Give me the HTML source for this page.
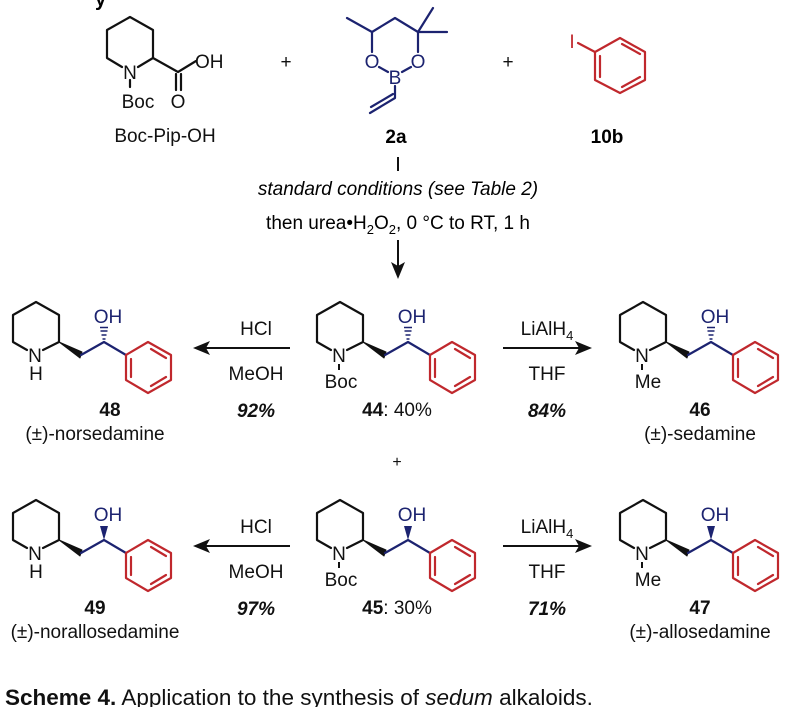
<!DOCTYPE html>
<html><head><meta charset="utf-8"><style>
html,body{margin:0;padding:0;background:#fff;}
svg{display:block;font-family:"Liberation Sans",Arial,sans-serif;}
</style></head><body>
<svg width="807" height="707" viewBox="0 0 807 707" xmlns="http://www.w3.org/2000/svg">
<defs>
  <g id="skel" fill="none" stroke-width="2.2" stroke-linejoin="round" stroke-linecap="round">
    <path d="M331,350 L317,342 L317,315 L340,302 L363,315 L363,342 L347,350" stroke="#111"/>
    <polygon points="363,342 386,352 384,358" fill="#111" stroke="#111" stroke-width="1"/>
    <path d="M385,355 L408,342 L430,355" stroke="#1c2370"/>
    <path d="M430,355 L430,380 L452,393 L475,380 L475,355 L452,342 Z" stroke="#c0282d"/>
    <path d="M435,359 L435,377 M455,349 L470,358 M455,386 L470,377" stroke="#c0282d"/>
  </g>
  <g id="hash" stroke="#1c2370" stroke-width="1.6">
    <path d="M406.5,339 h3 M405.5,335 h5 M404.5,331 h7 M404,327.5 h8"/>
  </g>
  <g id="solid">
    <polygon points="408,342 404,328 412,328" fill="#1c2370"/>
  </g>
</defs>

<text x="95" y="6" font-size="20" font-weight="bold">y</text>

<!-- Boc-Pip-OH -->
<g fill="none" stroke="#111" stroke-width="2.2" stroke-linejoin="round" stroke-linecap="round">
  <path d="M122,67 L107,58 L107,30 L130,17 L153,30 L153,58 L138,67"/>
  <path d="M153,58 L178,72 L196,61"/>
  <path d="M176,74 L176,90 M181,74 L181,90"/>
  <path d="M130,80 L130,87"/>
</g>
<g font-size="19" fill="#111">
  <text x="130" y="79" text-anchor="middle">N</text>
  <text x="195" y="68">OH</text>
  <text x="178" y="108" text-anchor="middle">O</text>
  <text x="138" y="108" text-anchor="middle">Boc</text>
  <text x="165" y="142" text-anchor="middle">Boc-Pip-OH</text>
  <text x="286" y="68" text-anchor="middle">+</text>
  <text x="508" y="68" text-anchor="middle">+</text>
</g>

<!-- 2a -->
<g fill="none" stroke="#1c2370" stroke-width="2.2" stroke-linejoin="round" stroke-linecap="round">
  <path d="M347,18 L372,32 L395,18 L418,32 L433,8 M418,32 L447,32"/>
  <path d="M372,32 L372,52 M418,32 L418,52"/>
  <path d="M379,67 L388,72 M411,67 L402,72"/>
  <path d="M395,86 L395,98 L370,113 M393,94 L371,107"/>
</g>
<g font-size="19" fill="#1c2370">
  <text x="372" y="68" text-anchor="middle">O</text>
  <text x="418" y="68" text-anchor="middle">O</text>
  <text x="395" y="84" text-anchor="middle">B</text>
</g>
<text x="396" y="143" font-size="19" font-weight="bold" text-anchor="middle">2a</text>

<!-- 10b -->
<g fill="none" stroke="#c0282d" stroke-width="2.2" stroke-linejoin="round" stroke-linecap="round">
  <path d="M595,52 L620,38 L645,52 L645,80 L620,93 L595,80 Z"/>
  <path d="M578,43 L595,52"/>
  <path d="M600,56 L600,77 M622,44 L640,54 M622,87 L640,77"/>
</g>
<text x="572" y="48" font-size="19" fill="#c0282d" text-anchor="middle">I</text>
<text x="607" y="143" font-size="19" font-weight="bold" text-anchor="middle">10b</text>

<!-- vertical arrow -->
<path d="M398,157 L398,171" stroke="#111" stroke-width="2"/>
<text x="398" y="195" font-size="19" font-style="italic" text-anchor="middle">standard conditions (see Table 2)</text>
<text x="398" y="229" font-size="19" text-anchor="middle">then urea•H<tspan font-size="13" dy="5">2</tspan><tspan dy="-5">O</tspan><tspan font-size="13" dy="5">2</tspan><tspan dy="-5">, 0 °C to RT, 1 h</tspan></text>
<path d="M398,240 L398,266" stroke="#111" stroke-width="2"/>
<polygon points="398,279 391,262 398,266 405,262" fill="#111"/>

<!-- Row 1 -->
<use href="#skel"/><use href="#hash"/>
<g font-size="19" fill="#111">
  <text x="339" y="362" text-anchor="middle">N</text>
  <text x="341" y="388" text-anchor="middle">Boc</text>
  <text x="397" y="416" text-anchor="middle"><tspan font-weight="bold">44</tspan>: 40%</text>
</g>
<text x="412" y="323" font-size="19" fill="#1c2370" text-anchor="middle">OH</text>
<path d="M339,364 L339,370" stroke="#111" stroke-width="2"/>

<g transform="translate(-304,0)"><use href="#skel"/><use href="#hash"/></g>
<g font-size="19" fill="#111">
  <text x="35" y="362" text-anchor="middle">N</text>
  <text x="36" y="380" text-anchor="middle">H</text>
  <text x="110" y="416" text-anchor="middle" font-weight="bold">48</text>
  <text x="95" y="440" text-anchor="middle">(±)-norsedamine</text>
</g>
<text x="108" y="323" font-size="19" fill="#1c2370" text-anchor="middle">OH</text>

<g transform="translate(303,0)"><use href="#skel"/><use href="#hash"/></g>
<g font-size="19" fill="#111">
  <text x="642" y="362" text-anchor="middle">N</text>
  <text x="648" y="388" text-anchor="middle">Me</text>
  <text x="700" y="416" text-anchor="middle" font-weight="bold">46</text>
  <text x="700" y="440" text-anchor="middle">(±)-sedamine</text>
</g>
<path d="M642,364 L642,370" stroke="#111" stroke-width="2"/>
<text x="715" y="323" font-size="19" fill="#1c2370" text-anchor="middle">OH</text>

<!-- row 1 arrows -->
<path d="M290,348 L205,348" stroke="#111" stroke-width="2"/>
<polygon points="193,348 210,341 206,348 210,355" fill="#111"/>
<path d="M503,348 L580,348" stroke="#111" stroke-width="2"/>
<polygon points="592,348 575,341 579,348 575,355" fill="#111"/>
<g font-size="19" fill="#111" text-anchor="middle">
  <text x="256" y="335">HCl</text>
  <text x="256" y="380">MeOH</text>
  <text x="256" y="417" font-weight="bold" font-style="italic">92%</text>
  <text x="547" y="335">LiAlH<tspan font-size="13" dy="5">4</tspan></text>
  <text x="547" y="380">THF</text>
  <text x="547" y="417" font-weight="bold" font-style="italic">84%</text>
  <text x="397" y="467" font-size="16">+</text>
</g>

<!-- Row 2 -->
<g transform="translate(0,198)"><use href="#skel"/><use href="#solid"/></g>
<g font-size="19" fill="#111">
  <text x="339" y="560" text-anchor="middle">N</text>
  <text x="341" y="586" text-anchor="middle">Boc</text>
  <text x="397" y="614" text-anchor="middle"><tspan font-weight="bold">45</tspan>: 30%</text>
</g>
<path d="M339,562 L339,568" stroke="#111" stroke-width="2"/>
<text x="412" y="521" font-size="19" fill="#1c2370" text-anchor="middle">OH</text>

<g transform="translate(-304,198)"><use href="#skel"/><use href="#solid"/></g>
<g font-size="19" fill="#111">
  <text x="35" y="560" text-anchor="middle">N</text>
  <text x="36" y="578" text-anchor="middle">H</text>
  <text x="95" y="614" text-anchor="middle" font-weight="bold">49</text>
  <text x="95" y="638" text-anchor="middle">(±)-norallosedamine</text>
</g>
<text x="108" y="521" font-size="19" fill="#1c2370" text-anchor="middle">OH</text>

<g transform="translate(303,198)"><use href="#skel"/><use href="#solid"/></g>
<g font-size="19" fill="#111">
  <text x="642" y="560" text-anchor="middle">N</text>
  <text x="648" y="586" text-anchor="middle">Me</text>
  <text x="700" y="614" text-anchor="middle" font-weight="bold">47</text>
  <text x="700" y="638" text-anchor="middle">(±)-allosedamine</text>
</g>
<path d="M642,562 L642,568" stroke="#111" stroke-width="2"/>
<text x="715" y="521" font-size="19" fill="#1c2370" text-anchor="middle">OH</text>

<!-- row 2 arrows -->
<path d="M290,546 L205,546" stroke="#111" stroke-width="2"/>
<polygon points="193,546 210,539 206,546 210,553" fill="#111"/>
<path d="M503,546 L580,546" stroke="#111" stroke-width="2"/>
<polygon points="592,546 575,539 579,546 575,553" fill="#111"/>
<g font-size="19" fill="#111" text-anchor="middle">
  <text x="256" y="533">HCl</text>
  <text x="256" y="578">MeOH</text>
  <text x="256" y="615" font-weight="bold" font-style="italic">97%</text>
  <text x="547" y="533">LiAlH<tspan font-size="13" dy="5">4</tspan></text>
  <text x="547" y="578">THF</text>
  <text x="547" y="615" font-weight="bold" font-style="italic">71%</text>
</g>

<text x="5" y="705" font-size="22.5" fill="#111"><tspan font-weight="bold">Scheme 4.</tspan> Application to the synthesis of <tspan font-style="italic">sedum</tspan> alkaloids.</text>
</svg>
</body></html>
